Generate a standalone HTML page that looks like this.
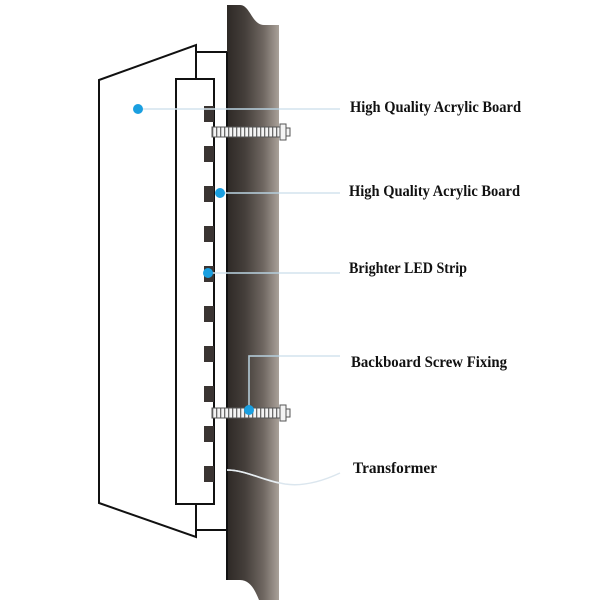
<!DOCTYPE html>
<html><head><meta charset="utf-8"><style>
html,body{margin:0;padding:0;background:#fff;}
svg{display:block;}
</style></head><body>
<svg width="600" height="600" viewBox="0 0 600 600" xmlns="http://www.w3.org/2000/svg">
<defs>
<linearGradient id="wall" x1="0" y1="0" x2="1" y2="0">
<stop offset="0" stop-color="#2e2926"/>
<stop offset="0.35" stop-color="#453f3b"/>
<stop offset="0.7" stop-color="#6f6761"/>
<stop offset="1" stop-color="#aaa199"/>
</linearGradient>
<pattern id="thread" x="0" y="0" width="4" height="20" patternUnits="userSpaceOnUse">
<rect x="0" y="0" width="4" height="20" fill="#f4f4f4"/>
<rect x="0" y="0" width="1.3" height="20" fill="#6a6a6a"/>
</pattern>
</defs>
<rect width="600" height="600" fill="#fff"/>
<!-- wall -->
<path d="M227,5 L240,5 C250,5 252,25 264,25 L279,25 L279,600 L259,600 C255,590 250,580 240,580 L227,580 Z" fill="url(#wall)"/>
<line x1="227" y1="52" x2="227" y2="580" stroke="#111" stroke-width="2"/>
<!-- outer panel -->
<g fill="none" stroke="#111" stroke-width="2" stroke-linejoin="miter">
<polyline points="196,79 196,45 99,80 99,503 196,537 196,504"/>
<line x1="196" y1="52" x2="227" y2="52"/>
<line x1="196" y1="530" x2="227" y2="530"/>
<rect x="176" y="79" width="38" height="425" fill="#fff"/>
</g>
<!-- LEDs -->
<g fill="#3a3432">
<rect x="204" y="106" width="10" height="16"/>
<rect x="204" y="146" width="10" height="16"/>
<rect x="204" y="186" width="10" height="16"/>
<rect x="204" y="226" width="10" height="16"/>
<rect x="204" y="266" width="10" height="16"/>
<rect x="204" y="306" width="10" height="16"/>
<rect x="204" y="346" width="10" height="16"/>
<rect x="204" y="386" width="10" height="16"/>
<rect x="204" y="426" width="10" height="16"/>
<rect x="204" y="466" width="10" height="16"/>
</g>
<!-- screws -->
<g stroke="#555" stroke-width="1">
<rect x="212" y="127" width="68" height="10" fill="url(#thread)"/>
<rect x="280" y="124" width="6" height="16" fill="#f4f4f4"/>
<rect x="286" y="128" width="4" height="8" fill="#f4f4f4"/>
<rect x="212" y="408" width="68" height="10" fill="url(#thread)"/>
<rect x="280" y="405" width="6" height="16" fill="#f4f4f4"/>
<rect x="286" y="409" width="4" height="8" fill="#f4f4f4"/>
</g>
<!-- leader lines -->
<g fill="none" stroke="#d3e4ee" stroke-width="1.5">
<line x1="140" y1="109" x2="340" y2="109"/>
<line x1="220" y1="193" x2="340" y2="193"/>
<line x1="208" y1="273" x2="340" y2="273"/>
<polyline points="249,410 249,356 340,356"/>
<path d="M227,470 C245,470 262,480 285,484 C305,487 325,480 340,473" stroke="#dbe6ee"/>
</g>
<g fill="none" stroke="#9ab8c8" stroke-width="1.2" opacity="0.7">
<line x1="227" y1="109" x2="279" y2="109"/>
<line x1="227" y1="193" x2="279" y2="193"/>
<line x1="227" y1="273" x2="279" y2="273"/>
<polyline points="249,410 249,356 279,356"/>
</g>
<path d="M227,470 C245,470 262,480 279,483" fill="none" stroke="#e8eef2" stroke-width="1.5"/>
<!-- dots -->
<g fill="#1a9fe0">
<circle cx="138" cy="109" r="5"/>
<circle cx="220" cy="193" r="5"/>
<circle cx="208" cy="273" r="5"/>
<circle cx="249" cy="410" r="5"/>
</g>
<!-- labels -->
<g font-family="'Liberation Serif', serif" font-weight="bold" font-size="16" fill="#111">
<text x="350" y="112" textLength="171" lengthAdjust="spacingAndGlyphs">High Quality Acrylic Board</text>
<text x="349" y="196" textLength="171" lengthAdjust="spacingAndGlyphs">High Quality Acrylic Board</text>
<text x="349" y="273" textLength="118" lengthAdjust="spacingAndGlyphs">Brighter LED Strip</text>
<text x="351" y="367" textLength="156" lengthAdjust="spacingAndGlyphs">Backboard Screw Fixing</text>
<text x="353" y="473" textLength="84" lengthAdjust="spacingAndGlyphs">Transformer</text>
</g>
</svg>
</body></html>
